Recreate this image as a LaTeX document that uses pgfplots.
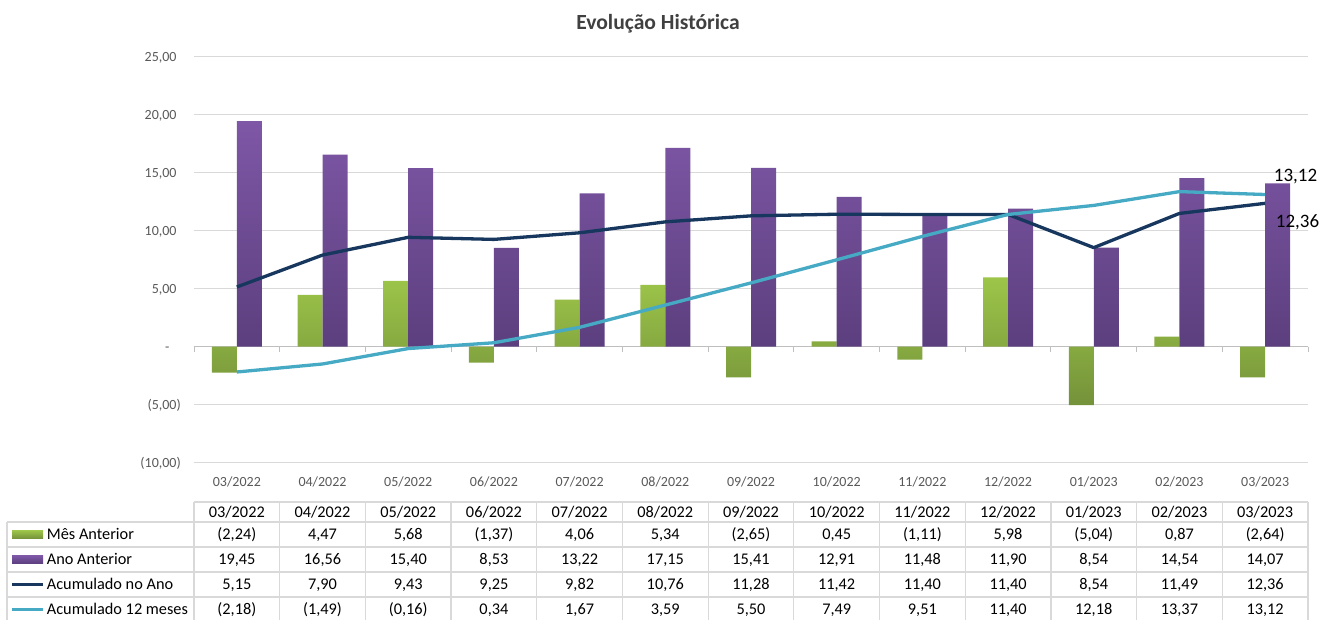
\documentclass[border=0pt]{standalone}
\usepackage{fontspec}
\setmainfont{Carlito}
\usepackage{pgfplots}
\pgfplotsset{compat=1.18}
\usepackage{pgfplotstable}
\definecolor{grn1}{HTML}{9DC549}
\definecolor{grn2}{HTML}{74923A}
\definecolor{pur1}{HTML}{7E57A6}
\definecolor{pur2}{HTML}{5C3F7E}
\definecolor{cNavy}{HTML}{17375E}
\definecolor{cLblue}{HTML}{46AAC5}
\definecolor{gridc}{HTML}{D9D9D9}
\definecolor{axc}{HTML}{BFBFBF}
\definecolor{txt}{HTML}{595959}
\definecolor{ttl}{HTML}{404040}

\pgfplotstableread{
x mes ano acum doze
0 -2.24 19.45 5.15 -2.18
1 4.47 16.56 7.90 -1.49
2 5.68 15.40 9.43 -0.16
3 -1.37 8.53 9.25 0.34
4 4.06 13.22 9.82 1.67
5 5.34 17.15 10.76 3.59
6 -2.65 15.41 11.28 5.50
7 0.45 12.91 11.42 7.49
8 -1.11 11.48 11.40 9.51
9 5.98 11.90 11.40 11.40
10 -5.04 8.54 8.54 12.18
11 0.87 14.54 11.49 13.37
12 -2.64 14.07 12.36 13.12
}\data

\begin{document}
\begin{tikzpicture}[x=1pt,y=1pt]
\useasboundingbox (0,0) rectangle (1322,619);
\begin{axis}[at={(194pt,156.3pt)}, anchor=south west, scale only axis,
  width=1114pt, height=406pt,
  xmin=-0.5, xmax=12.5, ymin=-10, ymax=25,
  axis line style={draw=none}, tick style={draw=none},
  ytick={-10,-5,...,25},
  yticklabels={{(10,00)},{(5,00)},{-\phantom{0)}},{5,00\phantom{)}},{10,00\phantom{)}},{15,00\phantom{)}},{20,00\phantom{)}},{25,00\phantom{)}}},
  ymajorgrids, grid style={gridc, line width=1.2pt},
  xtick={0,...,12},
  xticklabels={03/2022,04/2022,05/2022,06/2022,07/2022,08/2022,09/2022,10/2022,11/2022,12/2022,01/2023,02/2023,03/2023},
  xticklabel style={anchor=base, yshift=-23.5pt, font=\fontsize{14}{16}\selectfont, text=txt, inner sep=0pt},
  yticklabel style={anchor=base east, inner sep=0pt, xshift=-13pt, yshift=-4.4pt, font=\fontsize{14}{16}\selectfont, text=txt},
  clip=false]
\draw[axc, line width=1pt] (axis cs:-0.5,0) -- (axis cs:12.5,0);
\pgfplotsinvokeforeach{-0.5,0.5,1.5,2.5,3.5,4.5,5.5,6.5,7.5,8.5,9.5,10.5,11.5,12.5}{
  \draw[axc, line width=1pt] (axis cs:#1,0) -- ([yshift=-5pt]axis cs:#1,0);
}
\addplot[ybar, draw=none, bar width=25pt, bar shift=-12.5pt, top color=grn1, bottom color=grn2] table[x=x,y=mes]{\data};
\addplot[ybar, draw=none, bar width=25pt, bar shift=12.5pt, top color=pur1, bottom color=pur2] table[x=x,y=ano]{\data};
\addplot[cNavy, line width=3.3pt, sharp plot, line join=round, mark=none] table[x=x,y=acum]{\data};
\addplot[cLblue, line width=3.3pt, sharp plot, line join=round, mark=none] table[x=x,y=doze]{\data};
\node[anchor=base, font=\fontsize{19}{22}\selectfont, xshift=30.4pt, yshift=13.5pt] at (axis cs:12,13.12) {13,12};
\node[anchor=base, font=\fontsize{19}{22}\selectfont, xshift=32.4pt, yshift=-24.4pt] at (axis cs:12,12.36) {12,36};
\end{axis}

% title
\node[anchor=base, font=\bfseries\fontsize{21.6}{24}\selectfont, text=ttl] at (658,589) {Evolução Histórica};

% data table grid
\begin{scope}[gridc, line width=1.2pt]
\draw (194,117) -- (1308,117);
\foreach \yy in {97,72,47,22} \draw (7,\yy) -- (1308,\yy);
\foreach \k in {0,...,13} \draw ({194+85.69*\k},117) -- ({194+85.69*\k},-5);
\draw (7,97) -- (7,-5);
\end{scope}

\begin{scope}[font=\fontsize{16.3}{19}\selectfont]
\foreach \lab [count=\i from 0] in {03/2022,04/2022,05/2022,06/2022,07/2022,08/2022,09/2022,10/2022,11/2022,12/2022,01/2023,02/2023,03/2023}
  \node[anchor=base, inner sep=0pt] at ({194+85.69*(\i+0.5)}, 101.8) {\lab};
\foreach \lab [count=\i from 0] in {{(2,24)},{4,47},{5,68},{(1,37)},{4,06},{5,34},{(2,65)},{0,45},{(1,11)},{5,98},{(5,04)},{0,87},{(2,64)}}
  \node[anchor=base, inner sep=0pt] at ({194+85.69*(\i+0.5)}, 79.3) {\lab};
\foreach \lab [count=\i from 0] in {{19,45},{16,56},{15,40},{8,53},{13,22},{17,15},{15,41},{12,91},{11,48},{11,90},{8,54},{14,54},{14,07}}
  \node[anchor=base, inner sep=0pt] at ({194+85.69*(\i+0.5)}, 54.3) {\lab};
\foreach \lab [count=\i from 0] in {{5,15},{7,90},{9,43},{9,25},{9,82},{10,76},{11,28},{11,42},{11,40},{11,40},{8,54},{11,49},{12,36}}
  \node[anchor=base, inner sep=0pt] at ({194+85.69*(\i+0.5)}, 29.3) {\lab};
\foreach \lab [count=\i from 0] in {{(2,18)},{(1,49)},{(0,16)},{0,34},{1,67},{3,59},{5,50},{7,49},{9,51},{11,40},{12,18},{13,37},{13,12}}
  \node[anchor=base, inner sep=0pt] at ({194+85.69*(\i+0.5)}, 4.3) {\lab};
% legend keys
\shade[top color=grn1, bottom color=grn2] (12,80.5) rectangle (43,88.5);
\shade[top color=pur1, bottom color=pur2] (12,55.5) rectangle (43,63.5);
\draw[cNavy, line width=3.3pt] (12,34.5) -- (43,34.5);
\draw[cLblue, line width=3.3pt] (12,9.5) -- (43,9.5);
\node[anchor=base west, inner sep=0pt] at (46.7,79.3) {Mês Anterior};
\node[anchor=base west, inner sep=0pt] at (46.7,54.3) {Ano Anterior};
\node[anchor=base west, inner sep=0pt] at (46.7,29.3) {Acumulado no Ano};
\node[anchor=base west, inner sep=0pt] at (46.7,4.3) {Acumulado 12 meses};
\end{scope}
\end{tikzpicture}
\end{document}
